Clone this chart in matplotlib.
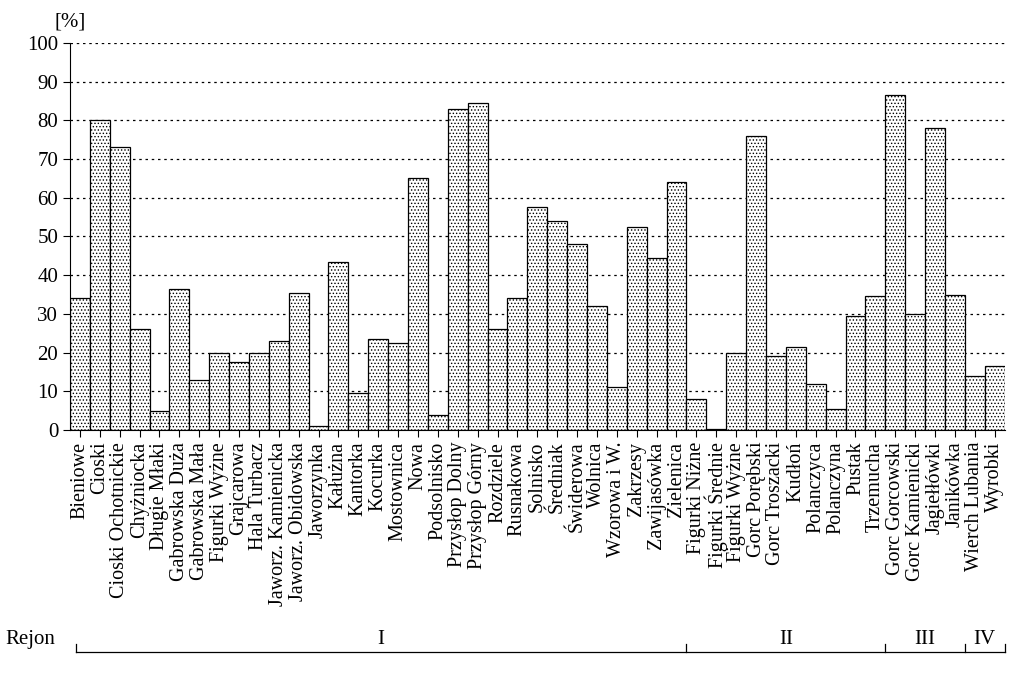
import matplotlib
matplotlib.use("Agg")
import matplotlib.pyplot as plt
import matplotlib.transforms as mtransforms

plt.rcParams['font.family'] = ['Liberation Serif', 'DejaVu Serif']
plt.rcParams['hatch.linewidth'] = 0.6

names = ['Bieniowe', 'Cioski', 'Cioski Ochotnickie', 'Chyżniocka', 'Długie Młaki',
         'Gabrowska Duża', 'Gabrowska Mała', 'Figurki Wyżne', 'Grajcarowa', 'Hala Turbacz',
         'Jaworz. Kamienicka', 'Jaworz. Obidowska', 'Jaworzynka', 'Kałużna', 'Kantorka',
         'Kocurka', 'Mostownica', 'Nowa', 'Podsolnisko', 'Przysłop Dolny', 'Przysłop Górny',
         'Rozdziele', 'Rusnakowa', 'Solnisko', 'Średniak', 'Świderowa', 'Wolnica',
         'Wzorowa i W.', 'Zakrzesy', 'Zawijasówka', 'Zielenica',
         'Figurki Niżne', 'Figurki Średnie', 'Figurki Wyżne', 'Gorc Porębski', 'Gorc Troszacki',
         'Kudłoń', 'Polanczyca', 'Polanczyna', 'Pustak', 'Trzemucha',
         'Gorc Gorcowski', 'Gorc Kamienicki', 'Jagiełłówki', 'Janikówka',
         'Wierch Lubania', 'Wyrobki']
values = [34, 80, 73, 26, 5, 36.5, 13, 20, 17.5, 20, 23, 35.5, 1, 43.5, 9.5, 23.5, 22.5,
          65, 4, 83, 84.5, 26, 34, 57.5, 54, 48, 32, 11, 52.5, 44.5, 64,
          8, 0.3, 20, 76, 19, 21.5, 12, 5.5, 29.5, 34.5,
          86.5, 30, 78, 35,
          14, 16.5]
regions = ['I', 'II', 'III', 'IV']
region_sizes = [31, 10, 4, 2]

fig = plt.figure(figsize=(10.23, 6.91), dpi=100)
ax = fig.add_axes([0.0684, 0.3777, 0.9136, 0.5601])
x = list(range(len(values)))
ax.bar(x, values, width=1.0, facecolor='white', edgecolor='black', linewidth=0.9,
       hatch='.....', zorder=2)
ax.set_xlim(-0.5, len(values) - 0.5)
ax.set_ylim(0, 100)
ax.set_yticks(range(0, 101, 10))
ax.tick_params(axis='y', labelsize=15, direction='out', length=5)
ax.yaxis.grid(True, linestyle=(0, (2, 3)), color='black', linewidth=0.9, zorder=0)
ax.set_xticks(x)
ax.set_xticklabels(names, rotation=90, fontsize=14.5)
ax.tick_params(axis='x', length=5, direction='out')
for s in ['top', 'right']:
    ax.spines[s].set_visible(False)
ax.text(-1.3, 103, '[%]', fontsize=15, ha='left', va='bottom')

# Rejon bracket
tr = mtransforms.blended_transform_factory(ax.transData, ax.transAxes)
yl = -0.573
start = -0.2
ax.plot([start, len(values) - 0.5], [yl, yl], color='black', lw=0.9, transform=tr, clip_on=False)
edges = [start]
pos = -0.5
for n in region_sizes:
    pos += n
    edges.append(pos)
edges[-1] = len(values) - 0.5
for e in edges:
    ax.plot([e, e], [yl, yl + 0.02], color='black', lw=0.9, transform=tr, clip_on=False)
for r, a, b in zip(regions, edges[:-1], edges[1:]):
    ax.text((a + b) / 2, yl + 0.008, r, fontsize=15, ha='center', va='bottom', transform=tr)
ax.text(0.0, yl + 0.008, 'Rejon', fontsize=15, ha='right', va='bottom',
        transform=mtransforms.offset_copy(tr, fig=fig, x=-25, y=0, units='dots'))

fig.savefig('out.png', dpi=100, facecolor='white')
